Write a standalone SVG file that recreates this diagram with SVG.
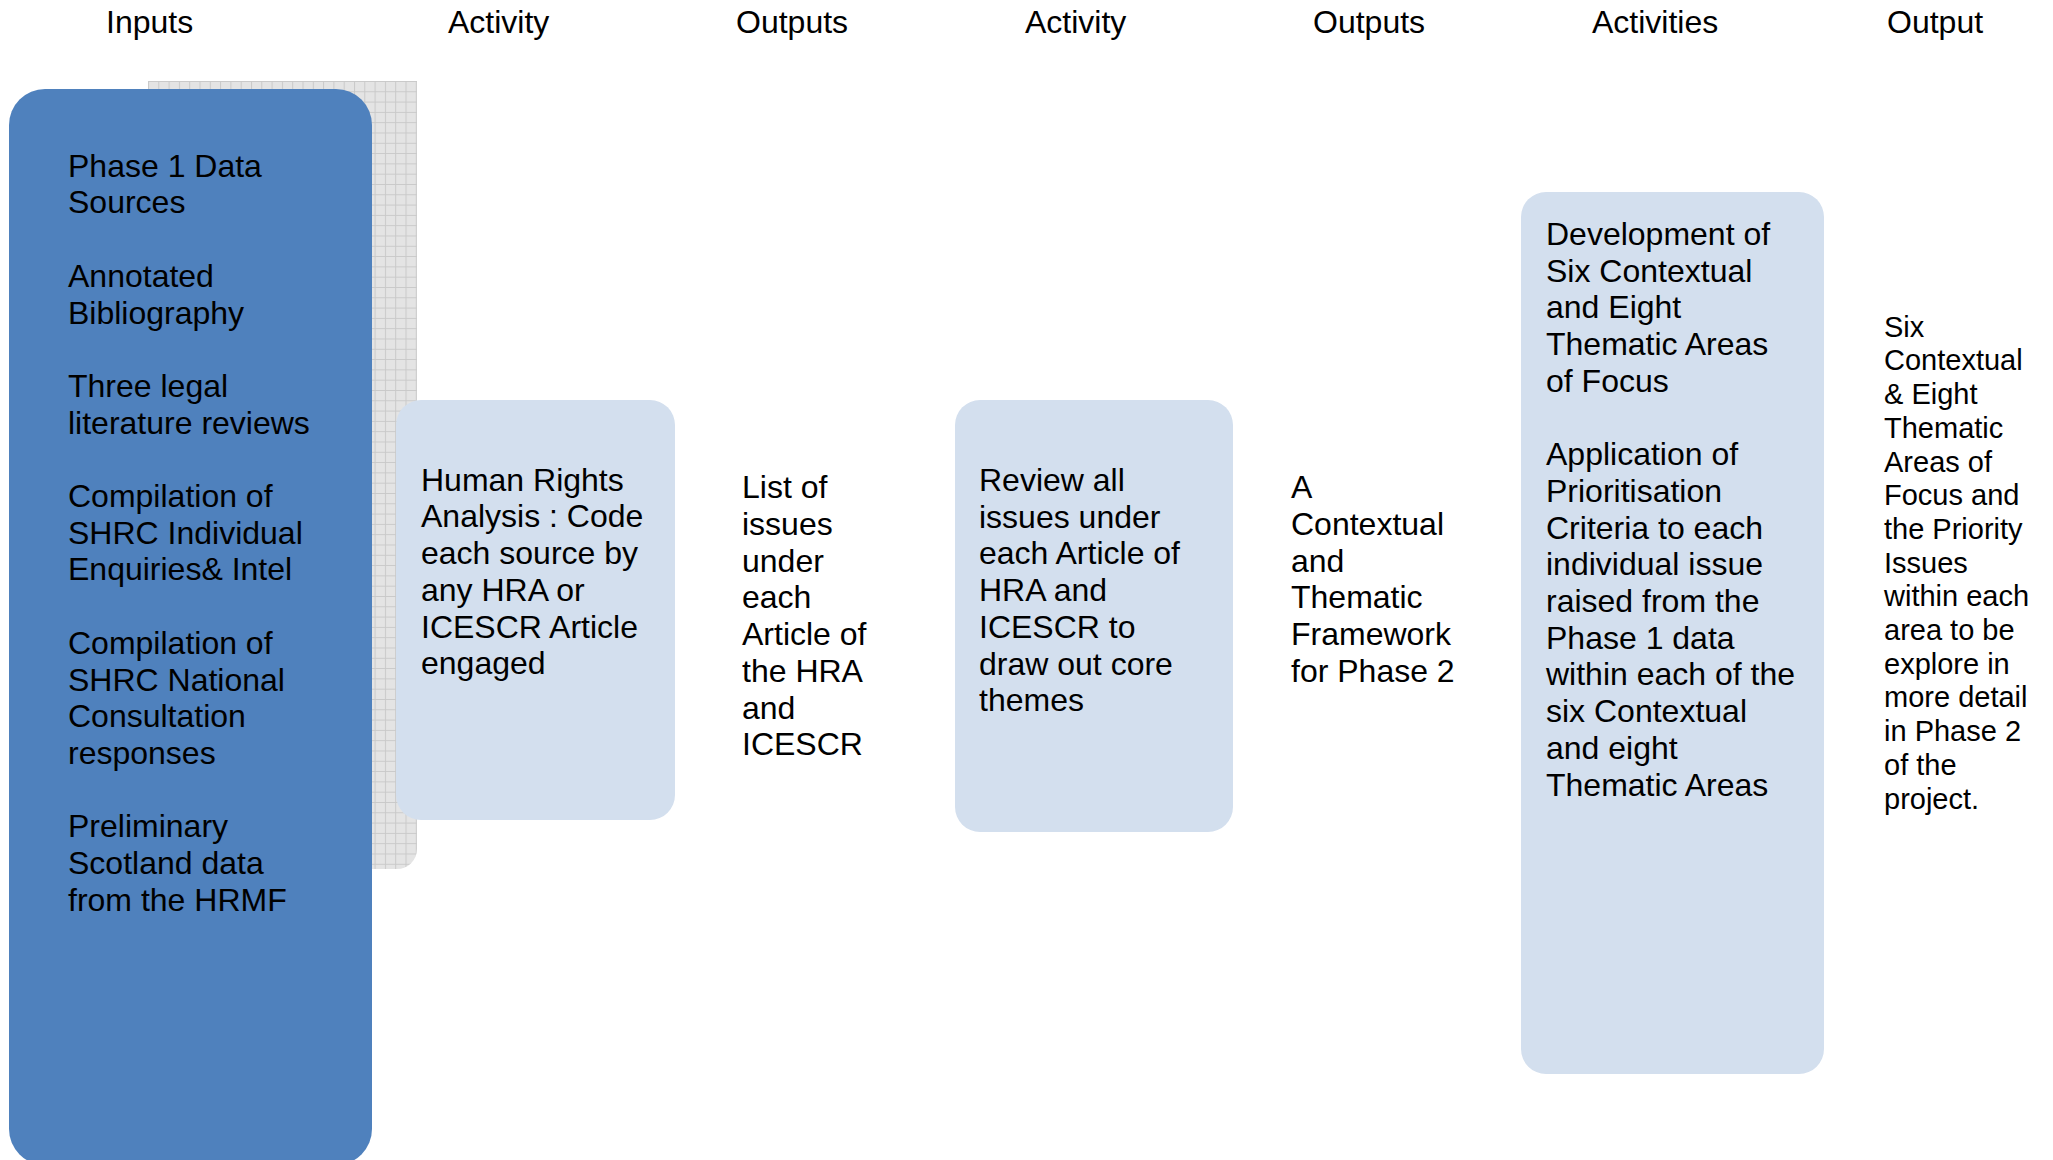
<svg xmlns="http://www.w3.org/2000/svg" width="2053" height="1160" viewBox="0 0 2053 1160">
<defs>
<pattern id="grid" x="148" y="81" width="10.3" height="10.3" patternUnits="userSpaceOnUse">
<rect width="10.3" height="10.3" fill="#e4e4e4"/>
<path d="M0 0.5H10.3M0.5 0V10.3" stroke="#c9c9c9" stroke-width="1" fill="none"/>
</pattern>
</defs>
<style>
text{font-family:"Liberation Sans",Arial,sans-serif;fill:#000}
.h{font-size:32px}
.b{font-size:32px}
.s{font-size:29px}
.blue{fill:#4F81BD}
.light{fill:#D3DFEE}
</style>
<rect width="2053" height="1160" fill="#fff"/>
<g id="headers" class="h">
<text class="h" x="106" y="33">Inputs</text>
<text class="h" x="448" y="33">Activity</text>
<text class="h" x="736" y="33">Outputs</text>
<text class="h" x="1025" y="33">Activity</text>
<text class="h" x="1313" y="33">Outputs</text>
<text class="h" x="1592" y="33">Activities</text>
<text class="h" x="1887" y="33">Output</text>
</g>
<g id="connectors"></g>
<g id="grid-panel">
<path d="M148 81H417V849A20 20 0 0 1 397 869H148Z" fill="url(#grid)"/>
</g>
<g id="inputs">
<rect class="blue" x="9" y="89" width="363" height="1076" rx="36"/>
<text class="b" x="68" y="176.7">
<tspan x="68">Phase 1 Data</tspan><tspan x="68" dy="36.7">Sources</tspan>
<tspan x="68" dy="73.4">Annotated</tspan><tspan x="68" dy="36.7">Bibliography</tspan>
<tspan x="68" dy="73.4">Three legal</tspan><tspan x="68" dy="36.7">literature reviews</tspan>
<tspan x="68" dy="73.4">Compilation of</tspan><tspan x="68" dy="36.7">SHRC Individual</tspan><tspan x="68" dy="36.7">Enquiries&amp; Intel</tspan>
<tspan x="68" dy="73.4">Compilation of</tspan><tspan x="68" dy="36.7">SHRC National</tspan><tspan x="68" dy="36.7">Consultation</tspan><tspan x="68" dy="36.7">responses</tspan>
<tspan x="68" dy="73.4">Preliminary</tspan><tspan x="68" dy="36.7">Scotland data</tspan><tspan x="68" dy="36.7">from the HRMF</tspan>
</text>
</g>
<g id="activity1">
<rect class="light" x="396" y="400" width="279" height="420" rx="25"/>
<text class="b" x="421" y="490.7">
<tspan x="421">Human Rights</tspan><tspan x="421" dy="36.7">Analysis : Code</tspan><tspan x="421" dy="36.7">each source by</tspan><tspan x="421" dy="36.7">any HRA or</tspan><tspan x="421" dy="36.7">ICESCR Article</tspan><tspan x="421" dy="36.7">engaged</tspan>
</text>
</g>
<g id="outputs1">
<text class="b" x="742" y="498.3">
<tspan x="742">List of</tspan><tspan x="742" dy="36.7">issues</tspan><tspan x="742" dy="36.7">under</tspan><tspan x="742" dy="36.7">each</tspan><tspan x="742" dy="36.7">Article of</tspan><tspan x="742" dy="36.7">the HRA</tspan><tspan x="742" dy="36.7">and</tspan><tspan x="742" dy="36.7">ICESCR</tspan>
</text>
</g>
<g id="activity2">
<rect class="light" x="955" y="400" width="278" height="432" rx="25"/>
<text class="b" x="979" y="491">
<tspan x="979">Review all</tspan><tspan x="979" dy="36.7">issues under</tspan><tspan x="979" dy="36.7">each Article of</tspan><tspan x="979" dy="36.7">HRA and</tspan><tspan x="979" dy="36.7">ICESCR to</tspan><tspan x="979" dy="36.7">draw out core</tspan><tspan x="979" dy="36.7">themes</tspan>
</text>
</g>
<g id="outputs2">
<text class="b" x="1291" y="498.3">
<tspan x="1291">A</tspan><tspan x="1291" dy="36.7">Contextual</tspan><tspan x="1291" dy="36.7">and</tspan><tspan x="1291" dy="36.7">Thematic</tspan><tspan x="1291" dy="36.7">Framework</tspan><tspan x="1291" dy="36.7">for Phase 2</tspan>
</text>
</g>
<g id="activities3">
<rect class="light" x="1521" y="192" width="303" height="882" rx="25"/>
<text class="b" x="1546" y="245">
<tspan x="1546">Development of</tspan><tspan x="1546" dy="36.7">Six Contextual</tspan><tspan x="1546" dy="36.7">and Eight</tspan><tspan x="1546" dy="36.7">Thematic Areas</tspan><tspan x="1546" dy="36.7">of Focus</tspan>
<tspan x="1546" dy="73.4">Application of</tspan><tspan x="1546" dy="36.7">Prioritisation</tspan><tspan x="1546" dy="36.7">Criteria to each</tspan><tspan x="1546" dy="36.7">individual issue</tspan><tspan x="1546" dy="36.7">raised from the</tspan><tspan x="1546" dy="36.7">Phase 1 data</tspan><tspan x="1546" dy="36.7">within each of the</tspan><tspan x="1546" dy="36.7">six Contextual</tspan><tspan x="1546" dy="36.7">and eight</tspan><tspan x="1546" dy="36.7">Thematic Areas</tspan>
</text>
</g>
<g id="output3">
<text class="s" x="1884" y="336.7">
<tspan x="1884">Six</tspan><tspan x="1884" dy="33.7">Contextual</tspan><tspan x="1884" dy="33.7">&amp; Eight</tspan><tspan x="1884" dy="33.7">Thematic</tspan><tspan x="1884" dy="33.7">Areas of</tspan><tspan x="1884" dy="33.7">Focus and</tspan><tspan x="1884" dy="33.7">the Priority</tspan><tspan x="1884" dy="33.7">Issues</tspan><tspan x="1884" dy="33.7">within each</tspan><tspan x="1884" dy="33.7">area to be</tspan><tspan x="1884" dy="33.7">explore in</tspan><tspan x="1884" dy="33.7">more detail</tspan><tspan x="1884" dy="33.7">in Phase 2</tspan><tspan x="1884" dy="33.7">of the</tspan><tspan x="1884" dy="33.7">project.</tspan>
</text>
</g>
</svg>
